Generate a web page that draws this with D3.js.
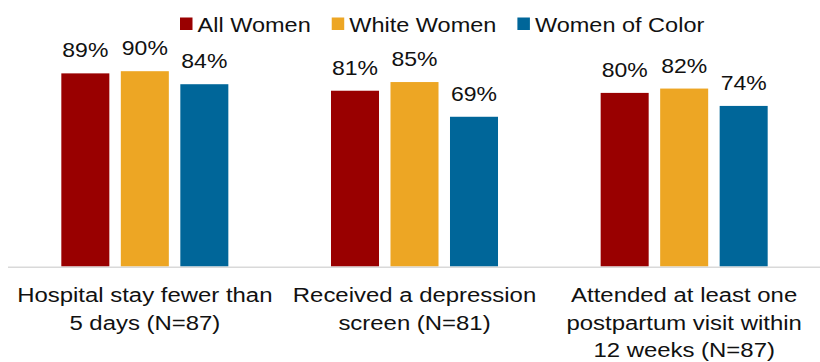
<!DOCTYPE html>
<html>
<head>
<meta charset="utf-8">
<script src="https://cdn.jsdelivr.net/npm/d3@7"></script>
<style>
  html, body { margin: 0; padding: 0; background: #fff; }
  svg { display: block; font-family: "Liberation Sans", Arial, sans-serif; }
</style>
</head>
<body>
<svg id="chart" width="820" height="362"></svg>
<script>
// ---- data ----
const categories = [
  ["Hospital stay fewer than", "5 days (N=87)"],
  ["Received a depression", "screen (N=81)"],
  ["Attended at least one", "postpartum visit within", "12 weeks (N=87)"]
];
const categoryKeys = ["hospital", "depression", "postpartum"];
const seriesNames = ["All Women", "White Women", "Women of Color"];
const allWomen = [89, 81, 80];
const whiteWomen = [90, 85, 82];
const womenOfColor = [84, 69, 74];
const seriesColors = ["#990000", "#EDA624", "#006699"];

const seriesValues = [allWomen, whiteWomen, womenOfColor];

// ---- layout ----
const svg = d3.select("#chart");
const baseY = 266.5;
const x0 = d3.scaleBand().domain(categoryKeys).range([10, 819]).padding(0);
const groupW = 178.5;
const x1 = d3.scaleBand().domain(seriesNames)
  .range([(x0.bandwidth() - groupW) / 2, (x0.bandwidth() + groupW) / 2])
  .paddingInner(0.193).paddingOuter(0.0965);
const y = d3.scaleLinear().domain([0, 100]).range([baseY, baseY - 217]);

const textColor = "#111";
const sx = 1.15;

// bars
const groups = svg.selectAll("g.grp").data(categoryKeys).join("g")
  .attr("class", "grp")
  .attr("transform", d => `translate(${x0(d)},0)`);

groups.each(function(k, ci) {
  const g = d3.select(this);
  const rows = seriesNames.map((s, si) => ({ s, si, v: seriesValues[si][ci] }));
  g.selectAll("rect").data(rows).join("rect")
    .attr("x", d => x1(d.s))
    .attr("width", x1.bandwidth())
    .attr("y", d => y(d.v))
    .attr("height", d => baseY - y(d.v))
    .attr("fill", d => seriesColors[d.si]);
  g.selectAll("text.val").data(rows).join("text")
    .attr("class", "val")
    .attr("transform", d => `translate(${x1(d.s) + x1.bandwidth() / 2},${y(d.v) - 16}) scale(${sx},1)`)
    .attr("text-anchor", "middle")
    .attr("font-size", 20)
    .attr("fill", textColor)
    .text(d => d.v + "%");
});

// axis line
const xAxis = d3.axisBottom(x0).tickSize(0).tickFormat("");
const axisG = svg.append("g").attr("transform", `translate(0,${baseY + 0.8})`).call(xAxis);
axisG.select(".domain").attr("stroke", "#d9d9d9").attr("stroke-width", 1.6)
  .attr("d", "M8,0H820");

// category labels
const csx = 1.14;
categoryKeys.forEach((k, ci) => {
  const cx = x0(k) + x0.bandwidth() / 2;
  categories[ci].forEach((line, li) => {
    svg.append("text")
      .attr("transform", `translate(${cx},${302 + li * 27.5}) scale(${csx},1)`)
      .attr("text-anchor", "middle")
      .attr("font-size", 21)
      .attr("fill", textColor)
      .text(line);
  });
});

// legend
const legend = svg.append("g");
let lx = 180;
const lsx = 1.12;
seriesNames.forEach((s, si) => {
  legend.append("rect").attr("x", lx).attr("y", 17.5).attr("width", 12.5).attr("height", 12.5)
    .attr("fill", seriesColors[si]);
  const t = legend.append("text")
    .attr("transform", `translate(${lx + 17.5},31.5) scale(${lsx},1)`)
    .attr("font-size", 21)
    .attr("fill", textColor)
    .text(s);
  const w = t.node().getComputedTextLength() * lsx;
  lx = lx + 17.5 + w + 21;
});
</script>
</body>
</html>
